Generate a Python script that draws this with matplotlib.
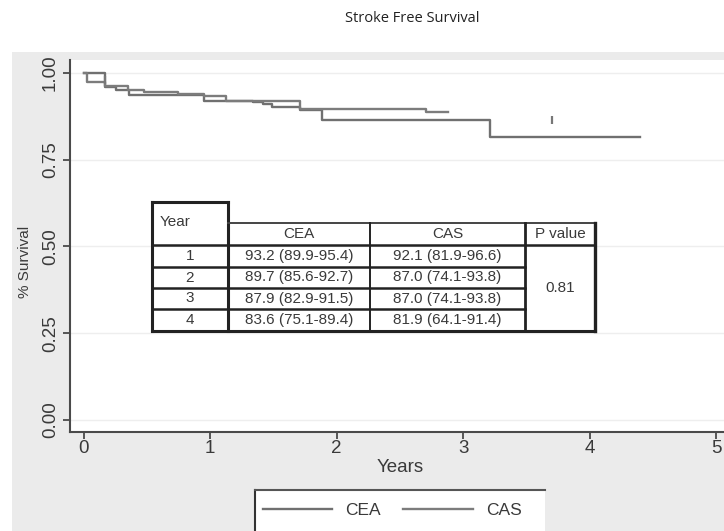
import matplotlib

matplotlib.use("Agg")
import matplotlib.pyplot as plt
from matplotlib.lines import Line2D
from matplotlib.patches import Rectangle

W, H = 724, 531

# Kaplan-Meier step curves (time in years, survival fraction)
cea_times = [0, 0.17, 0.26, 0.36, 0.95, 1.34, 1.42, 1.49, 1.71, 1.885, 3.21, 4.40]
cea_surv = [1.0, 0.960, 0.952, 0.937, 0.920, 0.915, 0.911, 0.903, 0.893, 0.865, 0.815, 0.815]
cas_times = [0, 0.03, 0.17, 0.35, 0.48, 0.75, 0.95, 1.13, 1.71, 2.71, 2.88]
cas_surv = [1.0, 0.975, 0.962, 0.950, 0.945, 0.939, 0.934, 0.920, 0.896, 0.887, 0.887]
censor_times = [0.17, 3.70]
censor_surv = [0.98, 0.865]

x_ticks = [0, 1, 2, 3, 4, 5]
y_ticks = [0.0, 0.25, 0.50, 0.75, 1.00]

# summary table
table_years = ["1", "2", "3", "4"]
table_cea = ["93.2 (89.9-95.4)", "89.7 (85.6-92.7)", "87.9 (82.9-91.5)", "83.6 (75.1-89.4)"]
table_cas = ["92.1 (81.9-96.6)", "87.0 (74.1-93.8)", "87.0 (74.1-93.8)", "81.9 (64.1-91.4)"]
table_header = ["CEA", "CAS", "P value"]
p_value = "0.81"

GREY_BG = "#ebebeb"
AXIS_COL = "#4a4a4a"
LINE_COL = "#707070"
TEXT_COL = "#3a3a3a"


def fx(x):
    return x / W


def fy(y):
    return 1 - y / H


def hline(fig, x0, x1, y, lw=1.6, color="#222222"):
    fig.add_artist(Line2D([fx(x0), fx(x1)], [fy(y), fy(y)], transform=fig.transFigure,
                          color=color, lw=lw, solid_capstyle="projecting"))


def vline(fig, x, y0, y1, lw=1.6, color="#222222"):
    fig.add_artist(Line2D([fx(x), fx(x)], [fy(y0), fy(y1)], transform=fig.transFigure,
                          color=color, lw=lw, solid_capstyle="projecting"))


plt.rcParams["font.family"] = ["Liberation Sans", "DejaVu Sans"]
fig = plt.figure(figsize=(W / 100, H / 100), dpi=100)
fig.patch.set_facecolor("white")

# grey graph region below the white title band
fig.add_artist(Rectangle((fx(12), 0), 1 - fx(12), fy(52), transform=fig.transFigure,
                         facecolor=GREY_BG, edgecolor="none", zorder=0))

ax = fig.add_axes([fx(70), fy(432), 1 - fx(70), (432 - 60) / H])
ax.set_facecolor("white")
ax.set_xlim(-0.107, 5.063)
ax.set_ylim(-0.0346, 1.037)

ax.step(cea_times, cea_surv, where="post", color=LINE_COL, lw=1.7, label="CEA")
ax.step(cas_times, cas_surv, where="post", color="#7c7c7c", lw=1.7, label="CAS")
ax.plot(censor_times, censor_surv, ls="none", marker="|", ms=6, mew=1.6, color="#777777")

for spine in ("top", "right"):
    ax.spines[spine].set_visible(False)
for spine in ("left", "bottom"):
    ax.spines[spine].set_color(AXIS_COL)
    ax.spines[spine].set_linewidth(1.5)

ax.set_xticks(x_ticks)
ax.set_yticks(y_ticks)
ax.set_yticklabels([f"{v:.2f}" for v in y_ticks], rotation=90, va="center")
ax.tick_params(axis="both", colors=AXIS_COL, labelcolor=TEXT_COL, length=5, width=1.3,
               labelsize=13.5, pad=3)
ax.tick_params(axis="x", pad=1)
ax.grid(axis="y", color="#eeeeee", lw=1)
ax.set_axisbelow(True)

fig.text(fx(400), fy(467), "Years", ha="center", va="center", fontsize=13.5, color=TEXT_COL)
fig.text(fx(25), fy(262), "% Survival", ha="center", va="center", rotation=90,
         fontsize=11, color=TEXT_COL)
fig.text(fx(412), fy(18), "Stroke Free Survival", ha="center", va="center",
         fontsize=10.5, color="#222222", family=["Open Sans", "DejaVu Sans"])

# legend box, cut off by the lower edge
fig.add_artist(Rectangle((fx(255), 0), fx(545) - fx(255), fy(490), transform=fig.transFigure,
                         facecolor="white", edgecolor="none", zorder=1))
vline(fig, 255, 490, 531, lw=1.5, color="#333333")
hline(fig, 255, 545, 490, lw=1.5, color="#555555")
handles, labels = ax.get_legend_handles_labels()
fig.legend(handles, labels, loc="center", bbox_to_anchor=(fx(392), fy(510)), ncol=2,
           frameon=False, fontsize=12.5, handlelength=4.0, handletextpad=0.75,
           columnspacing=1.3, borderpad=0, labelcolor=TEXT_COL)

# table inside the plot
cols = [152, 228, 370, 525, 595]
rows = [245, 267, 288, 309, 331]
ypos_top, header_top = 202, 223

# Year cell
hline(fig, cols[0], cols[1], ypos_top, lw=2.2)
vline(fig, cols[0], ypos_top, rows[-1], lw=2.2)
vline(fig, cols[1], ypos_top, rows[-1], lw=2.2)
# header row
hline(fig, cols[1], cols[4], header_top, lw=1.4, color="#444444")
vline(fig, cols[2], header_top, rows[-1], lw=1.4)
vline(fig, cols[3], header_top, rows[-1], lw=2.0)
vline(fig, cols[4], header_top, rows[-1], lw=2.4)
hline(fig, cols[0], cols[4], rows[0], lw=1.8)
for r in rows[1:-1]:
    hline(fig, cols[0], cols[3], r, lw=1.8)
hline(fig, cols[0], cols[4], rows[-1], lw=2.2)

cell_kw = dict(ha="center", va="center", fontsize=11, color=TEXT_COL)
fig.text(fx(160), fy(222), "Year", ha="left", va="center", fontsize=11, color=TEXT_COL)
for label, x0, x1 in zip(table_header, cols[1:-1], cols[2:]):
    fig.text(fx((x0 + x1) / 2), fy((header_top + rows[0]) / 2), label, **cell_kw)
for i, (yr, cea, cas) in enumerate(zip(table_years, table_cea, table_cas)):
    yc = (rows[i] + rows[i + 1]) / 2
    fig.text(fx((cols[0] + cols[1]) / 2), fy(yc), yr, **cell_kw)
    fig.text(fx((cols[1] + cols[2]) / 2), fy(yc), cea, **cell_kw)
    fig.text(fx((cols[2] + cols[3]) / 2), fy(yc), cas, **cell_kw)
fig.text(fx((cols[3] + cols[4]) / 2), fy((rows[0] + rows[-1]) / 2), p_value, **cell_kw)

fig.savefig("out.png", dpi=100, facecolor=fig.get_facecolor())
